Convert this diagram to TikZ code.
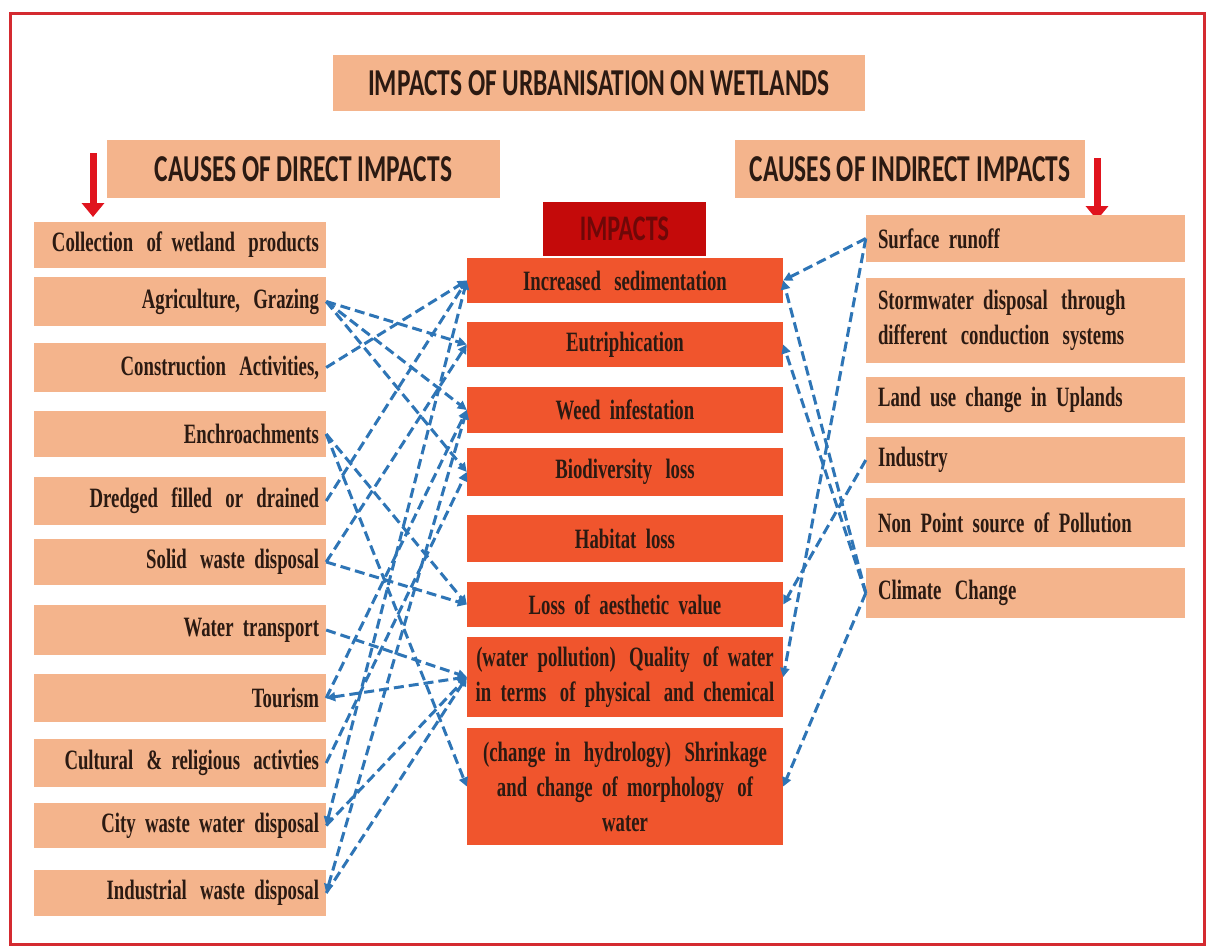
\documentclass[tikz,border=0pt]{standalone}
\usepackage{fontspec}
\usetikzlibrary{arrows.meta}
\newfontfamily\tnr[FakeStretch=0.67]{Liberation Serif}
\newfontfamily\calfont[FakeStretch=0.67]{Carlito}
\definecolor{peach}{HTML}{F4B48C}
\definecolor{impred}{HTML}{F0552D}
\definecolor{hdrred}{HTML}{C40A0A}
\definecolor{hdrtxt}{HTML}{6E0808}
\definecolor{txt}{HTML}{2B1A12}
\definecolor{conblue}{HTML}{2E75B6}
\definecolor{framered}{HTML}{D42A30}
\definecolor{arrred}{HTML}{E0141E}
\newcommand{\oneline}[1]{\mbox{#1}}
\newcommand{\gap}{\hspace{4pt}}
\tikzset{
  box/.style={rectangle, inner sep=0pt, text=txt, font=\tnr\bfseries\fontsize{28}{35}\selectfont},
  leftbox/.style={box, fill=peach, minimum width=292, inner xsep=7pt, text width=278, align=right},
  midbox/.style={box, fill=impred, minimum width=316, inner xsep=4pt, text width=308, align=center},
  rightbox/.style={box, fill=peach, minimum width=319, inner xsep=12pt, text width=295, align=left},
  headbox/.style={rectangle, inner sep=0pt, fill=peach, text=txt, font=\calfont\bfseries\fontsize{38}{40}\selectfont},
  con/.style={draw=conblue, line width=3pt, dash pattern=on 10pt off 5pt, -{Triangle[length=9pt,width=9pt]}},
  conboth/.style={con, {Triangle[length=9pt,width=9pt]}-{Triangle[length=9pt,width=9pt]}},
  redarrow/.style={draw=arrred, line width=7pt, -{Triangle[length=14pt,width=22pt]}}
}
\begin{document}
\begin{tikzpicture}[x=1pt,y=-1pt]
\useasboundingbox (0,0) rectangle (1210,950);
\fill[white] (0,0) rectangle (1210,950);
\draw[framered, line width=3pt] (10,14) rectangle (1204,944);

% headers
\node[headbox, minimum width=532, minimum height=55] (title) at (599,83) {IMPACTS OF URBANISATION ON WETLANDS};
\node[headbox, minimum width=393, minimum height=58] (cdir) at (303.5,169) {CAUSES OF DIRECT IMPACTS};
\node[headbox, minimum width=350, minimum height=58] (cind) at (910,169) {CAUSES OF INDIRECT IMPACTS};
\node[rectangle, inner sep=0pt, fill=hdrred, text=hdrtxt, minimum width=163, minimum height=54, font=\calfont\bfseries\fontsize{36}{38}\selectfont] (imp) at (624.5,229) {IMPACTS};

\coordinate (la1) at (93,153);
\coordinate (la2) at (93,217);
\coordinate (ra1) at (1097,158);
\coordinate (ra2) at (1097,220);
\draw[redarrow] (la1) -- (la2);
\draw[redarrow] (ra1) -- (ra2);

% left boxes
\node[leftbox, minimum height=46] (col) at (180,245) {\oneline{Collection\gap{} of wetland\gap{} products}};
\node[leftbox, minimum height=49] (agr) at (180,301.5) {\oneline{Agriculture,\gap{} Grazing}};
\node[leftbox, minimum height=49] (con) at (180,367.5) {\oneline{Construction\gap{} Activities,}};
\node[leftbox, minimum height=46] (enc) at (180,434) {\oneline{Enchroachments}};
\node[leftbox, minimum height=48] (dre) at (180,501) {\oneline{Dredged\gap{} filled\gap{} or\gap{} drained}};
\node[leftbox, minimum height=46] (sol) at (180,562) {\oneline{Solid\gap{} waste disposal}};
\node[leftbox, minimum height=50] (wat) at (180,630) {\oneline{Water transport}};
\node[leftbox, minimum height=48] (tou) at (180,698) {\oneline{Tourism}};
\node[leftbox, minimum height=48] (cul) at (180,763) {\oneline{Cultural\gap{} \& religious\gap{} activties}};
\node[leftbox, minimum height=45] (cit) at (180,825.5) {\oneline{City waste water disposal}};
\node[leftbox, minimum height=46] (ind) at (180,893) {\oneline{Industrial\gap{} waste disposal}};

% middle boxes
\node[midbox, minimum height=45] (sed) at (625,280.5) {\oneline{Increased\gap{} sedimentation}};
\node[midbox, minimum height=45] (eut) at (625,344.5) {\oneline{Eutriphication}};
\node[midbox, minimum height=46] (weed) at (625,410) {\oneline{Weed infestation}};
\node[midbox, minimum height=48] (bio) at (625,472) {\oneline{Biodiversity\gap{} loss}};
\node[midbox, minimum height=47] (hab) at (625,538.5) {\oneline{Habitat loss}};
\node[midbox, minimum height=45] (aes) at (625,604.5) {\oneline{Loss of aesthetic value}};
\node[midbox, minimum height=80] (qua) at (625,677) {\oneline{(water pollution)\gap{} Quality\gap{} of water}\\\oneline{in terms\gap{} of physical\gap{} and chemical}};
\node[midbox, minimum height=117] (shr) at (625,786.5) {\oneline{(change in\gap{} hydrology)\gap{} Shrinkage}\\\oneline{and change of morphology\gap{} of}\\\oneline{water}};

% right boxes
\node[rightbox, minimum height=47] (sur) at (1025.5,238.5) {\oneline{Surface runoff}};
\node[rightbox, minimum height=85] (sto) at (1025.5,320.5) {\oneline{Stormwater disposal\gap{} through}\\\oneline{different\gap{} conduction\gap{} systems}};
\node[rightbox, minimum height=46] (lan) at (1025.5,400) {\oneline{Land use change in Uplands}};
\node[rightbox, minimum height=46] (indy) at (1025.5,460) {\oneline{Industry}};
\node[rightbox, minimum height=49] (non) at (1025.5,522.5) {\oneline{Non Point source of Pollution}};
\node[rightbox, minimum height=50] (cli) at (1025.5,593) {\oneline{Climate\gap{} Change}};

% left connectors
\draw[con] (agr.east) -- (eut.west);
\draw[con] (agr.east) -- (weed.west);
\draw[con] (agr.east) -- (bio.west);
\draw[con] (con.east) -- (sed.west);
\draw[con] (dre.east) -- (sed.west);
\draw[con] (enc.east) -- (aes.west);
\draw[con] (enc.east) -- (shr.west);
\draw[con] (sol.east) -- (eut.west);
\draw[con] (sol.east) -- (aes.west);
\draw[con] (wat.east) -- (qua.west);
\draw[conboth] (tou.east) -- (qua.west);
\draw[con] (tou.east) -- (weed.west);
\draw[con] (cul.east) -- (bio.west);
\draw[con] (cit.east) -- (qua.west);
\draw[con] (ind.east) -- (qua.west);
\draw[conboth] (cit.east) -- (sed.west);
\draw[conboth] (ind.east) -- (weed.west);

% right connectors
\draw[con] (sur.west) -- (sed.east);
\draw[con] (sur.west) -- (qua.east);
\draw[con] (indy.west) -- (aes.east);
\draw[con] (cli.west) -- (sed.east);
\draw[con] (cli.west) -- (eut.east);
\draw[con] (cli.west) -- (shr.east);
\end{tikzpicture}
\end{document}
